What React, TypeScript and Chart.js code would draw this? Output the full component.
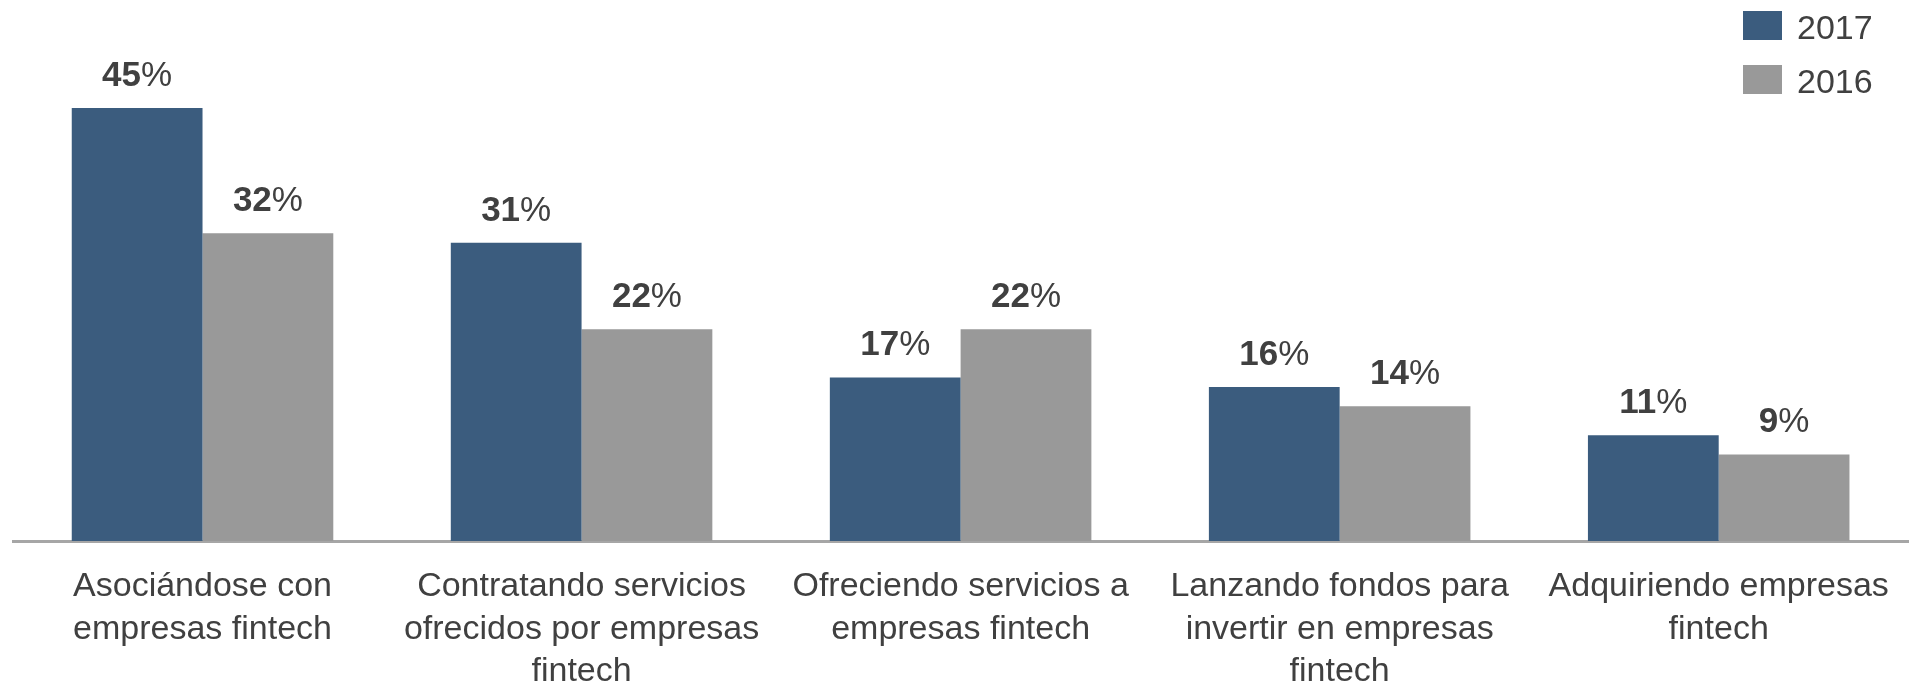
import React, { useEffect, useRef } from "react";
import { Chart, registerables } from "chart.js";

Chart.register(...registerables);

const categories: string[][] = [
  ["Asociándose con", "empresas fintech"],
  ["Contratando servicios", "ofrecidos por empresas", "fintech"],
  ["Ofreciendo servicios a", "empresas fintech"],
  ["Lanzando fondos para", "invertir en empresas", "fintech"],
  ["Adquiriendo empresas", "fintech"],
];
const values2017: number[] = [45, 31, 17, 16, 11];
const values2016: number[] = [32, 22, 22, 14, 9];
const seriesLabels: string[] = ["2017", "2016"];
const seriesColors: string[] = ["#3B5C7E", "#999999"];

const FONT = "'Liberation Sans', Arial, sans-serif";
const TEXT = "#404040";

const valueLabelPlugin = {
  id: "valueLabels",
  afterDatasetsDraw(chart: any) {
    const ctx = chart.ctx;
    ctx.save();
    ctx.fillStyle = TEXT;
    ctx.textBaseline = "alphabetic";
    chart.data.datasets.forEach((ds: any, di: number) => {
      const meta = chart.getDatasetMeta(di);
      meta.data.forEach((bar: any, i: number) => {
        const num = String(ds.data[i]);
        ctx.font = `bold 35px ${FONT}`;
        const wNum = ctx.measureText(num).width;
        ctx.font = `35px ${FONT}`;
        const wPct = ctx.measureText("%").width;
        const x0 = bar.x - (wNum + wPct) / 2;
        const y = bar.y - 22;
        ctx.textAlign = "left";
        ctx.font = `bold 35px ${FONT}`;
        ctx.fillText(num, x0, y);
        ctx.font = `35px ${FONT}`;
        ctx.fillText("%", x0 + wNum, y);
      });
    });
    ctx.restore();
  },
};

const legendPlugin = {
  id: "customLegend",
  afterDraw(chart: any) {
    const ctx = chart.ctx;
    ctx.save();
    const bx = chart.width - 170;
    chart.data.datasets.forEach((ds: any, i: number) => {
      const by = 11 + i * 54;
      ctx.fillStyle = ds.backgroundColor;
      ctx.fillRect(bx, by, 39, 29);
      ctx.fillStyle = TEXT;
      ctx.font = `34px ${FONT}`;
      ctx.textAlign = "left";
      ctx.textBaseline = "alphabetic";
      ctx.fillText(ds.label, bx + 54, by + 28);
    });
    ctx.restore();
  },
};

export default function App() {
  const ref = useRef<HTMLCanvasElement | null>(null);
  useEffect(() => {
    if (!ref.current) return;
    const chart = new Chart(ref.current, {
      type: "bar",
      data: {
        labels: categories,
        datasets: [
          { label: seriesLabels[0], data: values2017, backgroundColor: seriesColors[0] },
          { label: seriesLabels[1], data: values2016, backgroundColor: seriesColors[1] },
        ],
      },
      options: {
        responsive: false,
        animation: false,
        layout: { padding: { top: 60, left: 13, right: 2, bottom: 0 } },
        plugins: { legend: { display: false }, tooltip: { enabled: false } },
        datasets: { bar: { categoryPercentage: 0.69, barPercentage: 1 } },
        scales: {
          x: {
            grid: { display: false, drawTicks: false },
            border: { display: true, color: "#A6A6A6", width: 3 },
            ticks: {
              color: TEXT,
              font: { family: FONT, size: 34, lineHeight: 1.26 },
              padding: 24,
              maxRotation: 0,
              autoSkip: false,
            },
            afterFit: (scale: any) => {
              scale.height = 146;
            },
          },
          y: {
            display: false,
            min: 0,
            max: 50,
          },
        },
      },
      plugins: [valueLabelPlugin, legendPlugin],
    });
    return () => chart.destroy();
  }, []);
  return (
    <div style={{ position: "absolute", left: 0, top: 0, width: 1913, height: 687, background: "#fff" }}>
      <canvas ref={ref} width={1913} height={687} style={{ display: "block" }} />
    </div>
  );
}
